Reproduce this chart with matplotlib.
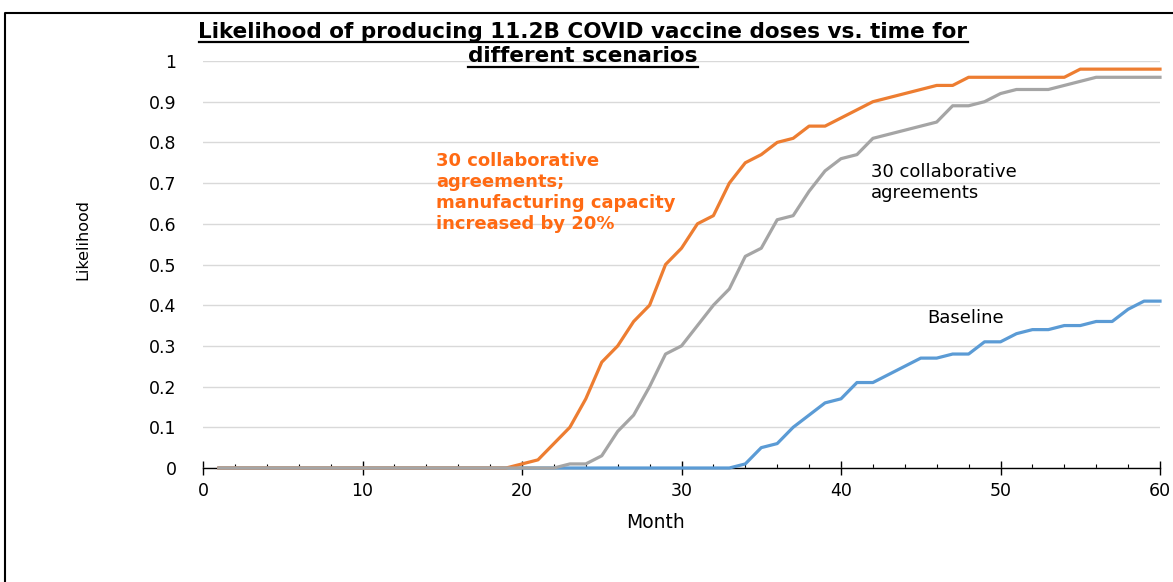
import matplotlib.pyplot as plt
import numpy as np
from matplotlib.lines import Line2D

# data (likelihood per month)
months = list(range(1, 61))
baseline = [0, 0, 0, 0, 0, 0, 0, 0, 0, 0, 0, 0, 0, 0, 0, 0, 0, 0, 0, 0,
            0, 0, 0, 0, 0, 0, 0, 0, 0, 0, 0, 0, 0, 0.01, 0.05, 0.06, 0.10, 0.13, 0.16, 0.17,
            0.21, 0.21, 0.23, 0.25, 0.27, 0.27, 0.28, 0.28, 0.31, 0.31, 0.33, 0.34, 0.34, 0.35, 0.35,
            0.36, 0.36, 0.39, 0.41, 0.41]
collab = [0, 0, 0, 0, 0, 0, 0, 0, 0, 0, 0, 0, 0, 0, 0, 0, 0, 0, 0, 0,
          0, 0, 0.01, 0.01, 0.03, 0.09, 0.13, 0.20, 0.28, 0.30, 0.35, 0.40, 0.44, 0.52, 0.54,
          0.61, 0.62, 0.68, 0.73, 0.76, 0.77, 0.81, 0.82, 0.83, 0.84, 0.85, 0.89, 0.89, 0.90, 0.92,
          0.93, 0.93, 0.93, 0.94, 0.95, 0.96, 0.96, 0.96, 0.96, 0.96]
collab_cap = [0, 0, 0, 0, 0, 0, 0, 0, 0, 0, 0, 0, 0, 0, 0, 0, 0, 0, 0, 0.01,
              0.02, 0.06, 0.10, 0.17, 0.26, 0.30, 0.36, 0.40, 0.50, 0.54, 0.60, 0.62, 0.70, 0.75, 0.77,
              0.80, 0.81, 0.84, 0.84, 0.86, 0.88, 0.90, 0.91, 0.92, 0.93, 0.94, 0.94, 0.96, 0.96, 0.96,
              0.96, 0.96, 0.96, 0.96, 0.98, 0.98, 0.98, 0.98, 0.98, 0.98]

title_lines = ["Likelihood of producing 11.2B COVID vaccine doses vs. time for",
               "different scenarios"]

W, H = 1173, 582


def main():
    fig = plt.figure(figsize=(W / 100, H / 100), dpi=100)
    ax = fig.add_axes([203 / W, 1 - 468 / H, 957 / W, 407 / H])

    ax.plot(months, baseline, color="#5B9BD5", lw=2.3, clip_on=False, zorder=3)
    ax.plot(months, collab_cap, color="#ED7D31", lw=2.3, clip_on=False, zorder=3)
    ax.plot(months, collab, color="#A5A5A5", lw=2.3, clip_on=False, zorder=3)

    ax.set_xlim(0, 60)
    ax.set_ylim(0, 1)
    ax.set_xticks(np.arange(0, 61, 10))
    ax.set_xticks(np.arange(0, 61, 2), minor=True)
    ax.set_yticks(np.arange(0, 1.01, 0.1))
    ax.set_yticklabels(["0"] + ["%.1f" % v for v in np.arange(0.1, 0.95, 0.1)] + ["1"])
    ax.grid(axis="y", color="#D9D9D9", lw=1)
    ax.set_axisbelow(True)
    for s in ["top", "right", "left"]:
        ax.spines[s].set_visible(False)
    ax.spines["bottom"].set_color("black")
    ax.spines["bottom"].set_linewidth(1)
    ax.tick_params(axis="y", length=0, pad=19, labelsize=12.5)
    ax.tick_params(axis="x", which="major", direction="inout", length=10, width=1, pad=5, labelsize=12.5)
    ax.tick_params(axis="x", which="minor", direction="in", length=3, width=0.8)

    ax.set_xlabel("Month", fontsize=13.5)
    ax.set_ylabel("Likelihood", fontsize=11.5)
    ax.xaxis.set_label_coords((655 - 203) / 957, -(523 - 468) / 407)
    ax.yaxis.set_label_coords((83 - 203) / 957, (468 - 239) / 407)
    ax.xaxis.label.set_va("center")
    ax.yaxis.label.set_va("center")

    ax.text(14.6, 0.777, "30 collaborative\nagreements;\nmanufacturing capacity\nincreased by 20%",
            color="#FF6A13", fontsize=13, fontweight="bold", va="top", ha="left", linespacing=1.22)
    ax.text(41.9, 0.75, "30 collaborative\nagreements", color="black", fontsize=13,
            va="top", ha="left", linespacing=1.2)
    ax.text(45.4, 0.39, "Baseline", color="black", fontsize=13, va="top", ha="left")

    # title with underline
    fig.canvas.draw()
    r = fig.canvas.get_renderer()
    for i, t in enumerate(title_lines):
        y = 1 - (37.5 + 24.5 * i) / H
        txt = fig.text(583 / W, y, t, ha="center", va="baseline", fontsize=15.5, fontweight="bold")
        bb = txt.get_window_extent(r)
        uy = y * H - 4.5
        fig.add_artist(Line2D([bb.x0 / W, bb.x1 / W], [uy / H, uy / H], color="black", lw=1.6,
                              transform=fig.transFigure))

    # chart frame
    fig.add_artist(Line2D([5 / W, 5 / W, 1.0], [0, 1 - 12.5 / H, 1 - 12.5 / H], color="black", lw=1.5,
                          transform=fig.transFigure))

    fig.savefig("out.png", dpi=100)


if __name__ == "__main__":
    main()
